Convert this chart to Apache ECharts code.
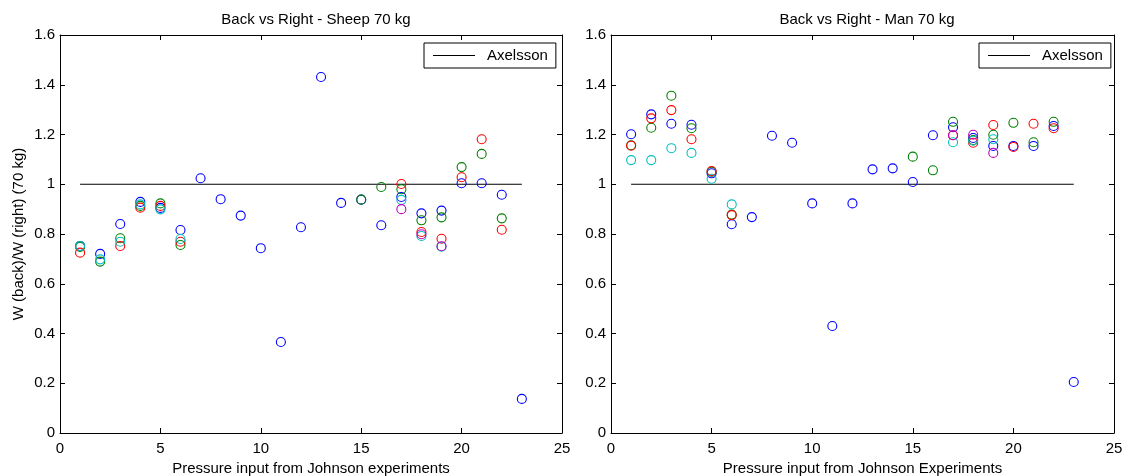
<!DOCTYPE html>
<html>
<head>
<meta charset="utf-8">
<script src="https://cdn.jsdelivr.net/npm/echarts@6/dist/echarts.min.js"></script>
<style>
  html, body { margin: 0; padding: 0; background: #fff; }
  #chart { width: 1126px; height: 476px; }
</style>
</head>
<body>
<div id="chart"></div>
<script>
// Experiment index (x positions 1..23)
const experiments = [1,2,3,4,5,6,7,8,9,10,11,12,13,14,15,16,17,18,19,20,21,22,23];

// Sheep 70 kg: W(back)/W(right)
const sheepBlue    = [0.752,0.720,0.840,0.929,0.905,0.816,1.024,0.940,0.874,0.743,0.366,0.827,1.431,0.925,0.938,0.835,0.949,0.883,0.894,1.004,1.004,0.958,0.137];
const sheepGreen   = [0.748,0.689,0.783,0.913,0.923,0.756,null,null,null,null,null,null,null,null,0.938,0.989,0.980,0.855,0.867,1.069,1.122,0.863,null];
const sheepRed     = [0.725,null,0.752,0.906,0.913,0.769,null,null,null,null,null,null,null,null,null,null,1.001,0.808,0.781,1.028,1.181,0.817,null];
const sheepCyan    = [0.752,0.698,0.769,0.919,0.899,0.780,null,null,null,null,null,null,null,null,null,null,0.937,0.792,0.749,null,null,null,null];
const sheepMagenta = [null,null,null,null,null,null,null,null,null,null,null,null,null,null,null,null,0.900,0.799,0.751,null,null,null,null];

// Man 70 kg: W(back)/W(right)
const manBlue    = [1.201,1.281,1.243,1.239,1.044,0.839,0.868,1.195,1.167,0.923,0.430,0.923,1.060,1.064,1.009,1.197,1.229,1.186,1.154,1.154,1.154,1.234,0.205];
const manGreen   = [1.157,1.227,1.356,1.225,1.050,0.878,null,null,null,null,null,null,null,null,1.111,1.056,1.251,1.178,1.199,1.247,1.169,1.251,null];
const manRed     = [1.155,1.265,1.298,1.181,1.053,0.876,null,null,null,null,null,null,null,null,null,null,1.197,1.167,1.238,1.150,1.243,1.225,null];
const manCyan    = [1.097,1.097,1.145,1.126,1.022,0.919,null,null,null,null,null,null,null,null,null,null,1.169,1.175,1.181,null,null,null,null];
const manMagenta = [null,null,null,null,null,null,null,null,null,null,null,null,null,null,null,null,1.197,1.199,1.126,null,null,null,null];

// Axelsson reference line
const axelssonX = [1, 23];
const axelssonY = [1, 1];

// Axis ticks
const xTicks = { min: 0, max: 25, interval: 5 };
const yTicks = { min: 0, max: 1.6, interval: 0.2 };

const colors = { blue: '#0000ff', green: '#008000', red: '#ff0000', cyan: '#00bfbf', magenta: '#bf00bf' };
const FONT = 'Liberation Sans, Arial, Helvetica, sans-serif';
const FS = 15;

function pairs(ys) {
  const out = [];
  ys.forEach((v, i) => { if (v !== null) out.push([experiments[i], v]); });
  return out;
}

function scatter(name, ys, color, gi) {
  return {
    name: name, type: 'scatter', xAxisIndex: gi * 2, yAxisIndex: gi * 2,
    data: pairs(ys), symbol: 'circle', symbolSize: 9,
    itemStyle: { color: 'rgba(0,0,0,0)', borderColor: color, borderWidth: 1.1, opacity: 1 },
    emphasis: { disabled: true }, silent: true, z: 3
  };
}

function xAx(gi, pos, name) {
  return {
    gridIndex: gi, type: 'value', position: pos, min: xTicks.min, max: xTicks.max, interval: xTicks.interval,
    name: name || '', nameLocation: 'middle', nameGap: 27,
    nameTextStyle: { color: '#000', fontFamily: FONT, fontSize: FS },
    axisLine: { show: true, onZero: false, lineStyle: { color: '#000', width: 1 } },
    axisTick: { show: true, inside: true, length: 5, lineStyle: { color: '#000' } },
    axisLabel: { show: pos === 'bottom', color: '#000', fontFamily: FONT, fontSize: FS, margin: 8 },
    splitLine: { show: false }
  };
}
function yAx(gi, pos, name) {
  return {
    gridIndex: gi, type: 'value', position: pos, min: yTicks.min, max: yTicks.max, interval: yTicks.interval,
    name: name || '', nameLocation: 'middle', nameGap: 34,
    nameTextStyle: { color: '#000', fontFamily: FONT, fontSize: FS },
    axisLine: { show: true, onZero: false, lineStyle: { color: '#000', width: 1 } },
    axisTick: { show: true, inside: true, length: 5, lineStyle: { color: '#000' } },
    axisLabel: { show: pos === 'left', color: '#000', fontFamily: FONT, fontSize: FS, margin: 5 },
    splitLine: { show: false }
  };
}

function legend(left) {
  return {
    left: left, top: 43, orient: 'vertical',
    data: [{ name: 'Axelsson', icon: 'rect' }],
    itemWidth: 42, itemHeight: 1,
    borderColor: '#000', borderWidth: 1, borderRadius: 0,
    padding: [5, 8, 5, 9],
    backgroundColor: '#fff',
    textStyle: { color: '#000', fontFamily: FONT, fontSize: FS, padding: [0, 0, 0, 7] },
    selectedMode: false
  };
}

const chart = echarts.init(document.getElementById('chart'), null, { renderer: 'canvas' });
chart.setOption({
  animation: false,
  backgroundColor: '#fff',
  title: [
    { text: 'Back vs Right - Sheep 70 kg', left: 311, top: 7, textAlign: 'center',
      textStyle: { color: '#000', fontFamily: FONT, fontSize: FS, fontWeight: 'normal' } },
    { text: 'Back vs Right - Man 70 kg', left: 862, top: 7, textAlign: 'center',
      textStyle: { color: '#000', fontFamily: FONT, fontSize: FS, fontWeight: 'normal' } }
  ],
  legend: [legend(424), legend(979)],
  grid: [
    { left: 60, top: 35, width: 502, height: 398, containLabel: false, outerBoundsMode: 'none' },
    { left: 611, top: 35, width: 503, height: 398, containLabel: false, outerBoundsMode: 'none' }
  ],
  xAxis: [
    xAx(0, 'bottom', 'Pressure input from Johnson experiments'), xAx(0, 'top'),
    xAx(1, 'bottom', 'Pressure input from Johnson Experiments'), xAx(1, 'top')
  ],
  yAxis: [
    yAx(0, 'left', 'W (back)/W (right) (70 kg)'), yAx(0, 'right'),
    yAx(1, 'left'), yAx(1, 'right')
  ],
  series: [
    { name: 'Axelsson', type: 'line', xAxisIndex: 0, yAxisIndex: 0,
      data: axelssonX.map((x, i) => [x, axelssonY[i]]), symbol: 'none',
      lineStyle: { color: '#000', width: 1 }, itemStyle: { color: '#000' }, silent: true, z: 2 },
    scatter('Sheep 1', sheepBlue, colors.blue, 0),
    scatter('Sheep 2', sheepGreen, colors.green, 0),
    scatter('Sheep 3', sheepRed, colors.red, 0),
    scatter('Sheep 4', sheepCyan, colors.cyan, 0),
    scatter('Sheep 5', sheepMagenta, colors.magenta, 0),
    { name: 'Axelsson', type: 'line', xAxisIndex: 2, yAxisIndex: 2,
      data: axelssonX.map((x, i) => [x, axelssonY[i]]), symbol: 'none',
      lineStyle: { color: '#000', width: 1 }, itemStyle: { color: '#000' }, silent: true, z: 2 },
    scatter('Man 1', manBlue, colors.blue, 1),
    scatter('Man 2', manGreen, colors.green, 1),
    scatter('Man 3', manRed, colors.red, 1),
    scatter('Man 4', manCyan, colors.cyan, 1),
    scatter('Man 5', manMagenta, colors.magenta, 1)
  ]
});
</script>
</body>
</html>
